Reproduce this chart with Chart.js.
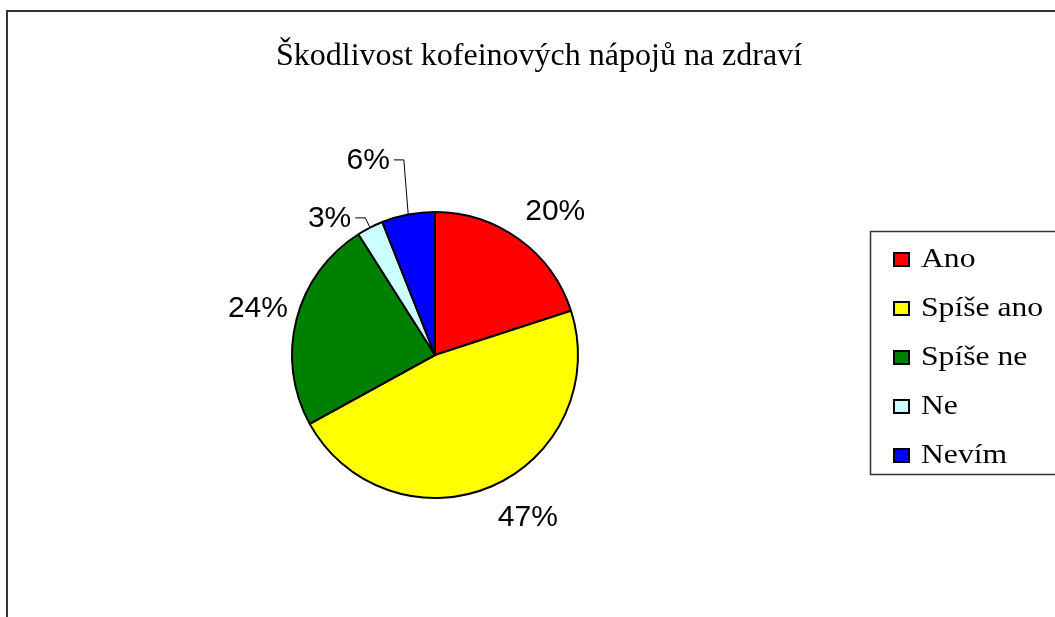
<!DOCTYPE html>
<html>
<head>
<meta charset="utf-8">
<script src="https://cdn.jsdelivr.net/npm/chart.js@4/dist/chart.umd.min.js"></script>
<style>
  body { margin: 0; background: #fff; }
  canvas { display: block; }
</style>
</head>
<body>
<canvas id="myChart" width="1055" height="617"></canvas>
<script>
const chartTitle = 'Škodlivost kofeinových nápojů na zdraví';
const categories = ['Ano', 'Spíše ano', 'Spíše ne', 'Ne', 'Nevím'];
const values = [20, 47, 24, 3, 6];
const sliceColors = ['#ff0000', '#ffff00', '#008000', '#ccffff', '#0000ff'];

// label nudges (px) from the default spot at 1.3 x radius, and which labels get a leader line
const labelNudge = [[11, 4], [19, -11], [3, -3], [-21, 27], [-32, -14]];
const labelLeader = [false, false, false, true, true];

const framePlugin = {
  id: 'frame',
  beforeDraw(chart) {
    const ctx = chart.ctx;
    ctx.save();
    ctx.fillStyle = '#fff';
    ctx.fillRect(0, 0, chart.width, chart.height);
    ctx.strokeStyle = '#333';
    ctx.lineWidth = 2;
    ctx.strokeRect(7, 11, chart.width + 20, chart.height + 20);

    ctx.fillStyle = '#000';
    ctx.font = '32px "Liberation Serif", "Times New Roman", serif';
    ctx.textAlign = 'center';
    ctx.textBaseline = 'alphabetic';
    ctx.fillText(chartTitle, 539, 65);
    ctx.restore();
  }
};

const labelsPlugin = {
  id: 'pctLabels',
  afterDatasetsDraw(chart) {
    const ctx = chart.ctx;
    const meta = chart.getDatasetMeta(0);
    const total = values.reduce((a, b) => a + b, 0);
    ctx.save();
    ctx.font = '30px "Liberation Sans", Arial, sans-serif';
    ctx.fillStyle = '#000';
    ctx.textAlign = 'center';
    ctx.textBaseline = 'alphabetic';
    meta.data.forEach((arc, i) => {
      const p = arc.getProps(['x', 'y', 'startAngle', 'endAngle', 'outerRadius'], true);
      const mid = (p.startAngle + p.endAngle) / 2;
      const r = p.outerRadius * 1.3;
      const cx = p.x + Math.cos(mid) * r + labelNudge[i][0];
      const cy = p.y + Math.sin(mid) * r + labelNudge[i][1];
      const text = Math.round(values[i] / total * 100) + '%';
      ctx.fillText(text, cx, cy + 11);

      if (labelLeader[i]) {
        const w = ctx.measureText(text).width;
        const sx = cx + w / 2 + 4;
        const rimX = p.x + Math.cos(mid) * p.outerRadius;
        const rimY = p.y + Math.sin(mid) * p.outerRadius;
        ctx.beginPath();
        ctx.strokeStyle = '#000';
        ctx.lineWidth = 1;
        ctx.moveTo(sx, cy + 1.5);
        ctx.lineTo(sx + 10, cy + 1.5);
        ctx.lineTo(rimX, rimY);
        ctx.stroke();
      }
    });
    ctx.restore();
  }
};

const legendPlugin = {
  id: 'boxLegend',
  afterDraw(chart) {
    const ctx = chart.ctx;
    ctx.save();
    ctx.strokeStyle = '#333';
    ctx.lineWidth = 1.5;
    ctx.strokeRect(870.5, 231.5, 200, 243);

    categories.forEach((name, i) => {
      const base = 267 + i * 49;
      ctx.fillStyle = sliceColors[i];
      ctx.fillRect(894, base - 14, 15, 13);
      ctx.strokeStyle = '#000';
      ctx.lineWidth = 2;
      ctx.strokeRect(894, base - 14, 15, 13);

      // legend text in the reference is a bit wider than plain Times
      ctx.save();
      ctx.translate(921, base);
      ctx.scale(1.13, 1);
      ctx.font = '28px "Liberation Serif", "Times New Roman", serif';
      ctx.textAlign = 'left';
      ctx.textBaseline = 'alphabetic';
      ctx.fillStyle = '#000';
      ctx.fillText(name, 0, 0);
      ctx.restore();
    });
    ctx.restore();
  }
};

const ctx = document.getElementById('myChart').getContext('2d');
const myChart = new Chart(ctx, {
  type: 'pie',
  data: {
    labels: categories,
    datasets: [{
      data: values,
      backgroundColor: sliceColors,
      borderColor: '#000',
      borderWidth: 2,
    }]
  },
  options: {
    responsive: false,
    animation: false,
    radius: 143,
    layout: {
      padding: { left: 290, top: 210, right: 475, bottom: 117 }
    },
    plugins: {
      legend: { display: false },
      tooltip: { enabled: false },
      title: { display: false }
    }
  },
  plugins: [framePlugin, labelsPlugin, legendPlugin]
});
</script>
</body>
</html>
